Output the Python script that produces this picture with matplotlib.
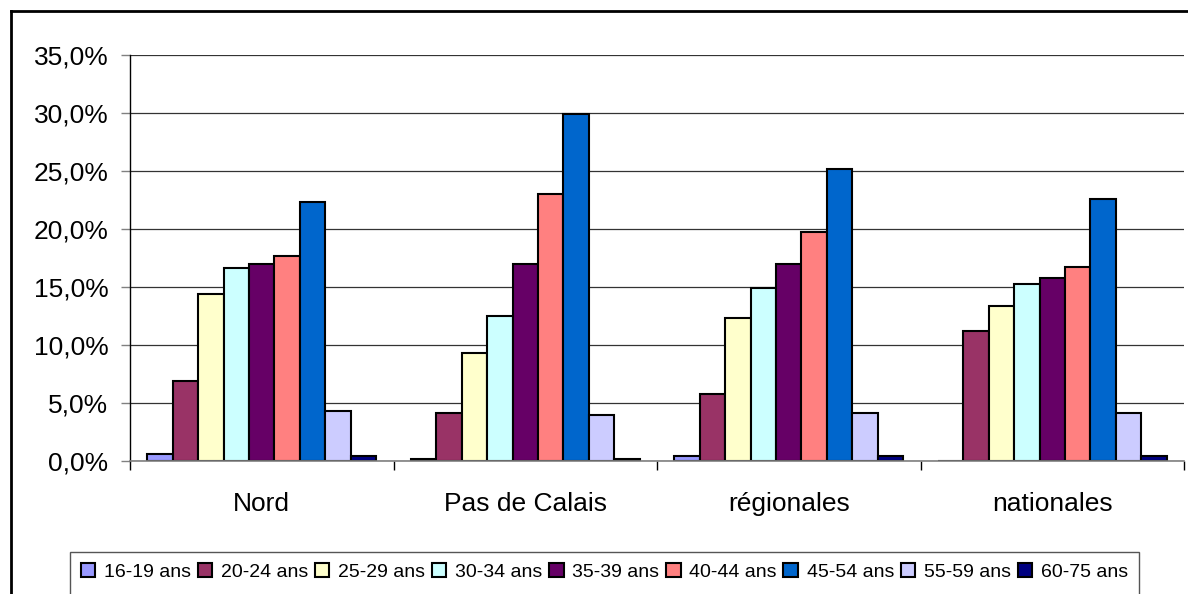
import matplotlib
matplotlib.use("Agg")
import matplotlib.pyplot as plt
import numpy as np
from matplotlib.lines import Line2D
from matplotlib.patches import Rectangle
from matplotlib.ticker import FixedLocator

plt.rcParams['font.family'] = ['Liberation Sans', 'DejaVu Sans']

categories = ["Nord", "Pas de Calais", "régionales", "nationales"]
series_names = ["16-19 ans", "20-24 ans", "25-29 ans", "30-34 ans", "35-39 ans",
                "40-44 ans", "45-54 ans", "55-59 ans", "60-75 ans"]
colors = ["#9999FF", "#993366", "#FFFFCC", "#CCFFFF", "#660066",
          "#FF8080", "#0066CC", "#CCCCFF", "#000080"]

s16_19 = [0.6, 0.2, 0.4, 0.0]
s20_24 = [6.9, 4.1, 5.8, 11.2]
s25_29 = [14.4, 9.3, 12.3, 13.4]
s30_34 = [16.6, 12.5, 14.9, 15.3]
s35_39 = [17.0, 17.0, 17.0, 15.8]
s40_44 = [17.7, 23.0, 19.7, 16.7]
s45_54 = [22.3, 29.9, 25.2, 22.6]
s55_59 = [4.3, 4.0, 4.1, 4.1]
s60_75 = [0.4, 0.2, 0.4, 0.4]
series = [s16_19, s20_24, s25_29, s30_34, s35_39, s40_44, s45_54, s55_59, s60_75]

yticks = [0, 5, 10, 15, 20, 25, 30, 35]
ytick_labels = ["0,0%", "5,0%", "10,0%", "15,0%", "20,0%", "25,0%", "30,0%", "35,0%"]

W, H = 1188, 594
fig = plt.figure(figsize=(W / 100, H / 100), dpi=100)
left, right, top, bottom = 130, 1184, 55, 461
ax = fig.add_axes([left / W, 1 - bottom / H, (right - left) / W, (bottom - top) / H])

x = np.arange(len(categories))
bw = 0.0965
n = len(series)
handles = []
for i, (vals, col, name) in enumerate(zip(series, colors, series_names)):
    b = ax.bar(x + (i - (n - 1) / 2) * bw, vals, width=bw, color=col,
               edgecolor="black", linewidth=1.5, label=name, zorder=3)
    handles.append(b)

ax.set_xlim(-0.5, len(categories) - 0.5)
ax.set_ylim(0, 35)

ax.set_yticks(yticks)
ax.set_yticklabels(ytick_labels, fontsize=19)
ax.yaxis.grid(True, color="#333333", linewidth=0.9, zorder=0)
ax.tick_params(axis="y", length=6.5, width=1, color="#808080", pad=9)

ax.xaxis.set_major_locator(FixedLocator(np.arange(len(categories) + 1) - 0.5))
ax.xaxis.set_major_formatter(plt.NullFormatter())
ax.xaxis.set_minor_locator(FixedLocator(x))
ax.set_xticklabels(categories, minor=True, fontsize=19)
ax.tick_params(axis="x", which="major", length=6.5, width=1, color="black", direction="out")
ax.tick_params(axis="x", which="minor", length=0, pad=22)

for s in ["top", "right"]:
    ax.spines[s].set_visible(False)
ax.spines["left"].set_color("black")
ax.spines["left"].set_linewidth(1)
ax.spines["bottom"].set_color("#808080")
ax.spines["bottom"].set_linewidth(1.2)
ax.spines["bottom"].set_zorder(4)

leg = fig.legend(handles=handles, labels=series_names, loc="upper left",
                 bbox_to_anchor=(70 / W, 1 - 552 / H), ncol=9, fontsize=14,
                 frameon=False,
                 handlelength=0.75, handleheight=0.75, handletextpad=0.45,
                 columnspacing=0.34, borderpad=0.55, borderaxespad=0)
for h in leg.legend_handles:
    h.set_linewidth(1.5)

# legend box (bottom edge falls outside the picture)
fig.add_artist(Rectangle((70 / W, -0.02), (1139 - 70) / W, (594 - 552) / H + 0.02,
                         transform=fig.transFigure, fill=False,
                         edgecolor="#555555", linewidth=1.0))

# outer chart frame (top and left visible)
fig.add_artist(Line2D([11 / W, 1.0], [1 - 11 / H, 1 - 11 / H], color="black", linewidth=2,
                      transform=fig.transFigure))
fig.add_artist(Line2D([11 / W, 11 / W], [1 - 11 / H, 0], color="black", linewidth=2,
                      transform=fig.transFigure))

fig.savefig("out.png", dpi=100)
